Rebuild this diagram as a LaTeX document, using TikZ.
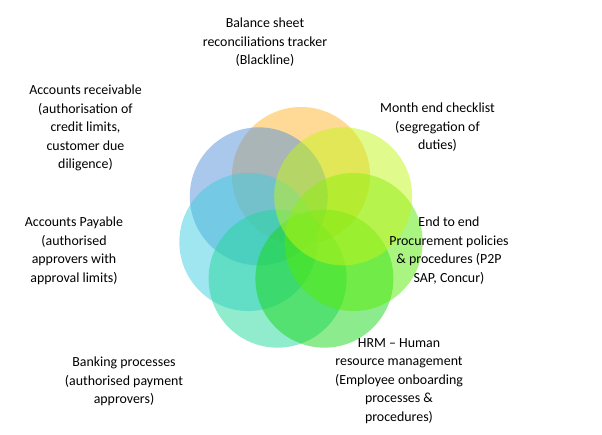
\documentclass[tikz,border=0pt]{standalone}
\usepackage{fontspec}
\setmainfont{Carlito}
\usepackage{tikz}
\usetikzlibrary{positioning}
\definecolor{kOrange}{RGB}{255,181,45}
\definecolor{kBlue}{RGB}{85,145,215}
\definecolor{kCyan}{RGB}{65,205,225}
\definecolor{kTeal}{RGB}{35,215,155}
\definecolor{kGreen}{RGB}{25,215,25}
\definecolor{kLime}{RGB}{85,235,5}
\definecolor{kYellow}{RGB}{195,245,25}
\tikzset{
  kreis/.style={fill=#1,fill opacity=0.5,draw=none},
  label/.style={align=center,anchor=north,inner sep=0pt,font=\fontsize{13.9}{18.5}\selectfont}
}
\begin{document}
\begin{tikzpicture}[x=1pt,y=-1pt]
%Mittelpunkt der Rosette, Abstand der Kreise vom Mittelpunkt und Radius
%(y zeigt nach unten, darum negative Winkel)
  \pgfmathsetmacro{\Mx}{301}
  \pgfmathsetmacro{\My}{230}
  \pgfmathsetmacro{\Ring}{54}
  \pgfmathsetmacro{\R}{69}
\useasboundingbox (0,0) rectangle (602,435);
%sieben Kreise, je 360/7 Grad versetzt
\foreach \k/\farbe in {0/kOrange,1/kBlue,2/kCyan,3/kTeal,4/kGreen,5/kLime,6/kYellow}{
\fill[kreis=\farbe] (\Mx,\My) ++(-90-\k*360/7:\Ring) circle[radius=\R];
}
\node[label] (bilanz) at (265,18) {Balance sheet\\reconciliations tracker\\(Blackline)};
\node[label] (debitoren) at (85.5,85) {Accounts receivable\\(authorisation of\\credit limits,\\customer due\\diligence)};
\node[label] (monat) at (437.5,103) {Month end checklist\\(segregation of\\duties)};
\node[label] (kreditoren) at (74,217) {Accounts Payable\\(authorised\\approvers with\\approval limits)};
\node[label] (einkauf) at (449,217) {End to end\\Procurement policies\\\& procedures (P2P\\SAP, Concur)};
\node[label] (bank) at (124,357) {Banking processes\\(authorised payment\\approvers)};
\node[label] (hrm) at (399,338) {HRM -- Human\\resource management\\(Employee onboarding\\processes \&\\procedures)};
\end{tikzpicture}
\end{document}
